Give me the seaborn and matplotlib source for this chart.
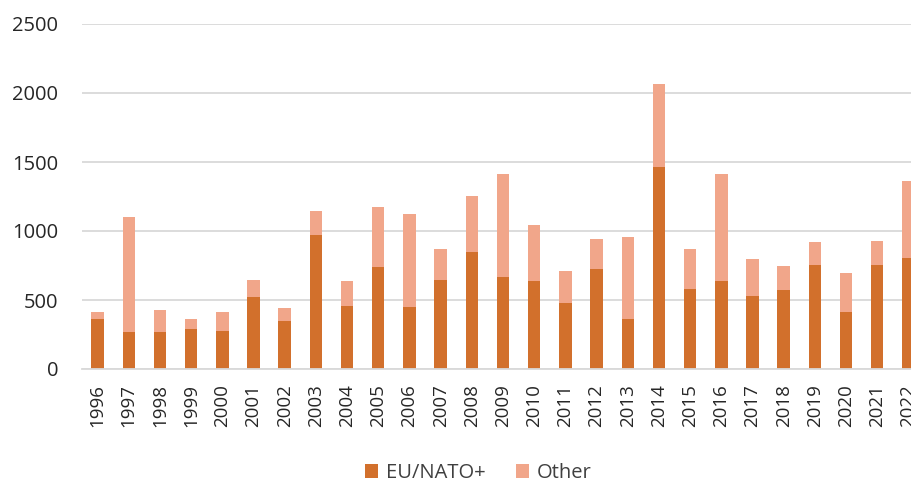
import matplotlib
matplotlib.use("Agg")
import matplotlib.pyplot as plt
import seaborn as sns
import pandas as pd

years = [str(y) for y in range(1996, 2023)]
eu_nato = [362, 270, 270, 290, 278, 524, 348, 971, 459, 741, 449, 643, 851, 669,
           638, 481, 727, 362, 1464, 577, 638, 531, 570, 756, 413, 756, 806]
total = [413, 1101, 425, 362, 413, 647, 444, 1145, 638, 1172, 1121, 872, 1256, 1410,
         1043, 710, 940, 959, 2063, 872, 1413, 799, 749, 918, 698, 927, 1362]
other = [t - e for t, e in zip(total, eu_nato)]

df = pd.DataFrame({"year": years, "EU/NATO+": eu_nato, "Other": other})
df["stack_top"] = df["EU/NATO+"] + df["Other"]

dark = "#D2702C"
light = "#F1A68A"

sns.set_theme(style="white")
plt.rcParams["font.family"] = ["Open Sans", "DejaVu Sans"]

fig = plt.figure(figsize=(9.12, 4.82), dpi=100)
ax = fig.add_axes([82 / 912, 113 / 482, 842 / 912, 345 / 482])

# light bar to full height, dark EU/NATO+ part drawn over it
sns.barplot(data=df, x="year", y="stack_top", color=light, width=0.4,
            saturation=1, linewidth=0, ax=ax, label="Other")
sns.barplot(data=df, x="year", y="EU/NATO+", color=dark, width=0.4,
            saturation=1, linewidth=0, ax=ax, label="EU/NATO+")

ax.set_ylim(0, 2500)
ax.set_yticks([0, 500, 1000, 1500, 2000, 2500])
ax.set_xlabel("")
ax.set_ylabel("")
ax.yaxis.grid(True, color="#d9d9d9", linewidth=1.3)
ax.set_axisbelow(True)
for s in ["top", "right", "left"]:
    ax.spines[s].set_visible(False)
ax.spines["bottom"].set_color("#d9d9d9")
ax.spines["bottom"].set_linewidth(1.3)
ax.tick_params(axis="y", length=0, pad=17, labelsize=14.5, labelcolor="#262626")
ax.tick_params(axis="x", length=0, pad=11, labelsize=13.5, labelcolor="#262626",
               labelrotation=90)

handles, labels = ax.get_legend_handles_labels()
if ax.get_legend() is not None:
    ax.get_legend().remove()
order = [labels.index("EU/NATO+"), labels.index("Other")]
fig.legend([handles[i] for i in order], [labels[i] for i in order],
           loc="center", bbox_to_anchor=(478 / 912, 1 - 473 / 482), ncol=2,
           frameon=False, fontsize=14.5, handlelength=0.65, handleheight=0.65,
           handletextpad=0.4, columnspacing=1.5, labelcolor="#404040")

fig.savefig("out.png", dpi=100)
